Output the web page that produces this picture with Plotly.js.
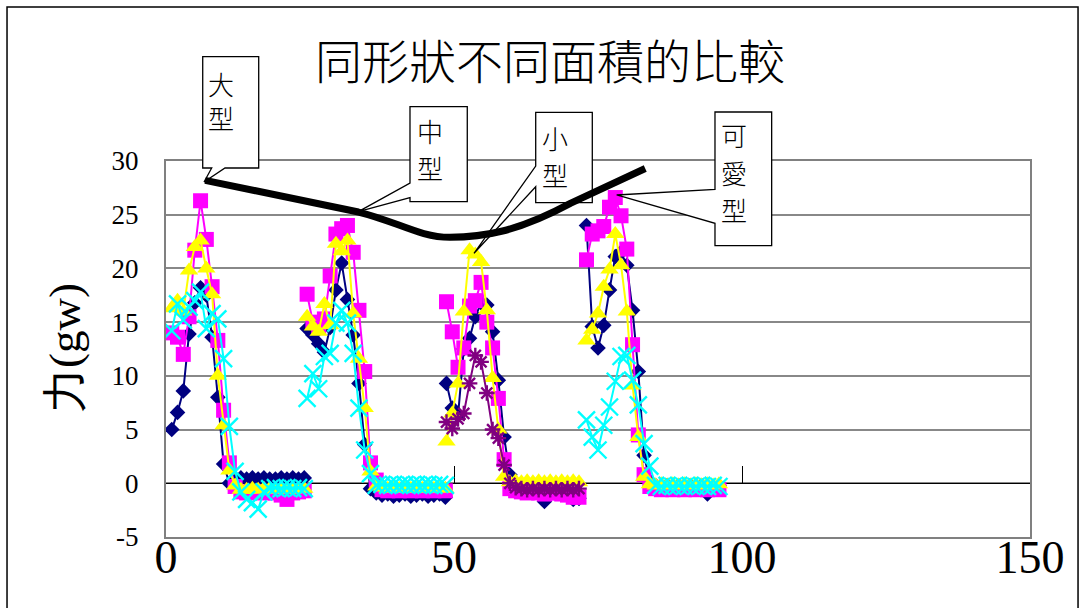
<!DOCTYPE html>
<html>
<head>
<meta charset="utf-8">
<script src="https://cdn.plot.ly/plotly-3.0.1.min.js"></script>
<style>
  html, body { margin: 0; padding: 0; background: #ffffff; }
  #chart { width: 1085px; height: 608px; }
</style>
</head>
<body>
<div id="chart"></div>
<script>
// ---------- data ----------
const chartTitle = '同形狀不同面積的比較';
const yTitle = '力(gw)';
const xTickVals = [0, 50, 100, 150];
const yTickVals = [-5, 0, 5, 10, 15, 20, 25, 30];

// x positions of the four trial groups
const xG1 = [1, 2, 3, 4, 5, 6, 7, 8, 9, 10, 11, 12, 13, 14, 15, 16, 17, 18, 19, 20, 21, 22, 23, 24];
const xG2 = [24.5, 25.5, 26.5, 27.5, 28.5, 29.5, 30.5, 31.5, 32.5, 33.5, 34.5, 35.5, 36.5, 37.5, 38.5, 39.5, 40.5, 41.5, 42.5, 43.5, 44.5, 45.5, 46.5, 47.5, 48.5];
const xG3 = [48.7, 49.7, 50.7, 51.7, 52.7, 53.7, 54.7, 55.7, 56.7, 57.7, 58.7, 59.7, 60.7, 61.7, 62.7, 63.7, 64.7, 65.7, 66.7, 67.7, 68.7, 69.7, 70.7, 71.7];
const xG4 = [73, 74, 75, 76, 77, 78, 79, 80, 81, 82, 83, 84, 85, 86, 87, 88, 89, 90, 91, 92, 93, 94, 95, 96];

// series 1 (navy diamonds)
const navyG1 = [5.0, 6.6, 8.6, 13.9, 16.8, 18.2, 17.5, 13.6, 8.0, 1.8, 0.0, 0.4, 0.5, 0.4, 0.5, 0.4, 0.5, 0.4, 0.4, 0.5, 0.4, 0.5, 0.4, 0.5];
const navyG2 = [14.4, 13.8, 13.0, 12.2, 14.5, 18.0, 20.5, 17.1, 13.8, 9.3, 3.6, -0.5, -0.9, -1.1, -1.0, -1.2, -1.1, -1.0, -1.2, -1.1, -1.0, -1.2, -1.1, -1.0, -1.3];
const navyG3 = [9.3, 7.0, 6.3, 12.5, 13.5, 15.5, 16.8, 16.6, 14.1, 9.6, 4.3, 0.8, -0.3, -0.3, -0.4, -0.5, -0.8, -1.7, -0.8, -0.6, -0.6, -0.7, -1.5, -1.4];
const navyG4 = [24.0, 14.6, 12.6, 14.7, 18.0, 21.1, 21.5, 20.3, 16.1, 10.4, 2.6, 0.2, -0.2, -0.3, -0.2, -0.3, -0.2, -0.3, -0.2, -0.3, -0.2, -1.0, -0.3, -0.2];

// series 2 (magenta squares)
const magG1 = [14.0, 13.6, 12.0, 15.5, 21.7, 26.3, 22.7, 18.3, 13.3, 6.8, 1.9, -0.3, -0.8, -0.9, -0.8, -0.8, -0.9, -0.8, -0.9, -1.1, -1.5, -0.9, -0.8, -0.7];
const magG2 = [17.6, 15.0, 14.5, 15.3, 19.3, 23.2, 23.7, 24.0, 21.5, 16.1, 10.4, 1.9, 0.3, -0.6, -0.7, -0.6, -0.7, -0.6, -0.7, -0.6, -0.7, -0.6, -0.7, -0.6, -0.7];
const magG3 = [16.9, 14.1, 10.8, 12.6, 16.5, 17.0, 18.7, 15.0, 12.6, 7.9, 2.2, -0.5, -0.7, -0.8, -0.9, -0.8, -0.9, -1.0, -0.9, -0.9, -1.0, -1.1, -1.3, -1.3];
const magG4 = [20.8, 23.2, 23.5, 23.9, 25.7, 26.6, 24.9, 21.8, 12.9, 4.5, 0.8, -0.3, -0.5, -0.6, -0.5, -0.6, -0.5, -0.6, -0.5, -0.6, -0.5, -0.6, -0.5, -0.6];

// series 3 (yellow triangles)
const yelG1 = [16.3, 17.0, 16.0, 19.8, 22.0, 22.6, 20.0, 17.6, 10.0, 5.4, 1.2, -0.2, -0.6, -0.6, -0.5, -0.6, -0.5, -0.5, -0.6, -0.5, -0.5, -0.6, -0.5, -0.5];
const yelG2 = [15.5, 14.6, 14.1, 16.7, 14.7, 22.3, 21.6, 22.6, 15.8, 11.6, 7.0, 1.1, -0.3, -0.4, -0.5, -0.4, -0.5, -0.4, -0.5, -0.4, -0.5, -0.4, -0.5, -0.4, -0.5];
const yelG3 = [3.9, 6.5, 9.3, 16.0, 21.7, 21.3, 20.6, 16.1, 9.8, 5.0, 0.6, 0.1, 0.2, 0.1, 0.2, 0.1, 0.2, 0.1, 0.2, 0.1, 0.2, 0.1, 0.2, 0.1];
const yelG4 = [13.3, 14.3, 15.8, 18.3, 19.9, 23.2, 20.3, 16.0, 9.1, 4.3, 0.6, -0.1, -0.2, -0.1, -0.2, -0.1, -0.2, -0.1, -0.2, -0.1, -0.2, -0.1, -0.2, -0.1];

// series 4 (cyan crosses) – groups 1, 2, 4
const cyanG1 = [14.2, 16.7, 15.2, 16.4, 17.0, 17.8, 14.4, 15.8, 15.3, 11.6, 5.3, 1.1, -0.8, -1.5, -1.8, -2.4, -0.8, -0.5, -0.4, -0.5, -0.4, -0.5, -0.4, -0.5];
const cyanG2 = [7.9, 10.2, 8.8, 11.8, 12.1, 14.9, 16.1, 14.9, 12.1, 7.0, 3.1, 0.9, -0.2, -0.1, -0.2, -0.1, -0.2, -0.1, -0.2, -0.1, -0.2, -0.1, -0.2, -0.1, -0.2];
const cyanG4 = [5.9, 4.3, 3.1, 5.4, 7.1, 9.5, 11.8, 11.9, 9.6, 7.3, 3.7, 1.6, -0.2, -0.3, -0.2, -0.3, -0.2, -0.3, -0.2, -0.3, -0.2, -0.3, -0.2, -0.3];

// series 5 (purple asterisks) – group 3 only
const purG3 = [5.7, 5.1, 6.0, 6.5, 9.3, 11.9, 11.3, 8.4, 5.0, 4.2, 1.7, 0.0, -0.4, -0.5, -0.6, -0.5, -0.6, -0.5, -0.6, -0.5, -0.6, -0.5, -0.6, -0.5];

// callout labels (one character per line)
const calloutTexts = [['大', '型'], ['中', '型'], ['小', '型'], ['可', '愛', '型']];

// ---------- build traces ----------
function joinGroups(xs, ys) {
  const X = [], Y = [];
  xs.forEach((xa, i) => {
    if (i > 0) { X.push(null); Y.push(null); }
    xa.forEach((v, j) => { X.push(v); Y.push(ys[i][j]); });
  });
  return { X, Y };
}
function series(xs, ys, color, symbol, size, open) {
  const d = joinGroups(xs, ys);
  return {
    type: 'scatter', mode: 'lines+markers', x: d.X, y: d.Y, connectgaps: false,
    line: { color: color, width: 2 },
    marker: { symbol: symbol, size: size, color: color, line: { color: color, width: open ? 2.4 : 0 } },
    showlegend: false, hoverinfo: 'x+y'
  };
}
const traces = [
  series([xG1, xG2, xG3, xG4], [navyG1, navyG2, navyG3, navyG4], '#000080', 'diamond', 12, false),
  series([xG1, xG2, xG3, xG4], [magG1, magG2, magG3, magG4], '#FF00FF', 'square', 15, false),
  series([xG1, xG2, xG3, xG4], [yelG1, yelG2, yelG3, yelG4], '#FFFF00', 'triangle-up', 16, false),
  series([xG1, xG2, xG4], [cyanG1, cyanG2, cyanG4], '#00FFFF', 'x-thin-open', 17, true),
  series([xG3], [purG3], '#800080', 'asterisk-open', 13, true),
  // empty trace that carries the zero-line axis (xaxis2)
  { type: 'scatter', x: [], y: [], xaxis: 'x2', yaxis: 'y', showlegend: false, hoverinfo: 'skip' }
];

// ---------- layout helpers (pixel -> paper for decorations) ----------
const M = { l: 166, r: 55, t: 161, b: 71 };
const W = 1085, H = 608;
const PW = W - M.l - M.r, PH = H - M.t - M.b;
function px(x) { return ((x - M.l) / PW).toFixed(4); }
function py(y) { return ((H - M.b - y) / PH).toFixed(4); }
function poly(pts) { return 'M ' + pts.map(p => px(p[0]) + ',' + py(p[1])).join(' L ') + ' Z'; }

const serifList = 'Liberation Serif, DejaVu Serif, Times New Roman, serif';
const cjk = 'Noto Sans CJK TC, Noto Sans CJK JP, sans-serif';

const callouts = [
  [[202.7, 56.7], [258.7, 56.7], [258.7, 168], [225, 168], [204, 182], [211.7, 168], [202.7, 168]],
  [[410, 106.7], [467.3, 106.7], [467.3, 201.7], [410, 201.7], [410, 197.7], [358.3, 211.7], [410, 183]],
  [[535.7, 112.3], [592.3, 112.3], [592.3, 202.7], [535.7, 202.7], [535.7, 186.7], [474, 253.3], [535.7, 166]],
  [[715, 112], [771.7, 112], [771.7, 245.7], [715, 245.7], [715, 223.3], [616.7, 195], [715, 189.3]]
];
const calloutCharPos = [
  [[221, 83], [221, 118]],
  [[430, 131], [430, 167]],
  [[555, 138], [555, 174]],
  [[734, 134], [734, 172], [734, 210]]
];

const shapes = [];
shapes.push({ type: 'rect', xref: 'paper', yref: 'paper', x0: px(7), x1: px(1078), y0: py(625), y1: py(7),
  line: { color: '#000000', width: 1.5 }, fillcolor: 'rgba(0,0,0,0)', layer: 'below' });
shapes.push({ type: 'line', xref: 'x', yref: 'y', x0: 0, x1: 150, y0: 25, y1: 25,
  line: { color: '#000000', width: 1 }, layer: 'below' });
callouts.forEach(c => shapes.push({ type: 'path', xref: 'paper', yref: 'paper', path: poly(c),
  line: { color: '#000000', width: 1.3 }, fillcolor: '#ffffff', layer: 'above' }));
shapes.push({ type: 'path', xref: 'x', yref: 'y',
  path: 'M 6.8,28.2 L 33.4,25.25 C 40,24.4 44,22.9 49.3,22.9 C 55,22.9 61,23.4 70.2,26.06 L 83.2,29.3',
  line: { color: '#000000', width: 7 }, layer: 'above' });

const annotations = [];
calloutTexts.forEach((chars, i) => chars.forEach((ch, j) => annotations.push({
  text: ch, xref: 'paper', yref: 'paper',
  x: +px(calloutCharPos[i][j][0]), y: +py(calloutCharPos[i][j][1]),
  xanchor: 'center', yanchor: 'middle', showarrow: false,
  font: { family: cjk, size: 26, color: '#000000', weight: 300 }
})));
// y-axis title, rotated
annotations.push({
  text: yTitle, xref: 'paper', yref: 'paper', x: +px(65), y: +py(348),
  xanchor: 'center', yanchor: 'middle', textangle: -90, showarrow: false,
  font: { family: serifList, size: 45, color: '#000000' }
});

const layout = {
  width: W, height: H, margin: M,
  paper_bgcolor: '#ffffff', plot_bgcolor: '#ffffff', showlegend: false,
  font: { family: serifList, color: '#000000' },
  title: {
    text: chartTitle, xref: 'container', yref: 'container',
    x: 550 / W, xanchor: 'center', y: 1 - 63 / H, yanchor: 'middle',
    font: { family: cjk, size: 47, color: '#000000', weight: 300 }
  },
  xaxis: {
    range: [0, 150], tickvals: xTickVals, ticktext: xTickVals.map(String),
    showgrid: false, zeroline: false,
    showline: true, mirror: true, linecolor: '#808080', linewidth: 2,
    ticks: '', ticklabelstandoff: -21,
    tickfont: { family: serifList, size: 46, color: '#000000' }, fixedrange: true
  },
  xaxis2: {
    overlaying: 'x', anchor: 'free', position: 5 / 35,
    range: [0, 150], tickvals: xTickVals, showticklabels: false,
    showline: true, linecolor: '#000000', linewidth: 1,
    ticks: 'inside', ticklen: 17, tickwidth: 1, tickcolor: '#000000',
    showgrid: false, zeroline: false, layer: 'below traces', fixedrange: true
  },
  yaxis: {
    range: [-5, 30], tickvals: yTickVals, ticktext: yTickVals.map(String),
    showgrid: true, gridcolor: '#888888', gridwidth: 2, zeroline: false,
    showline: true, mirror: true, linecolor: '#808080', linewidth: 2,
    ticks: 'outside', ticklen: 30, tickcolor: 'rgba(0,0,0,0)', tickwidth: 1,
    ticklabelstandoff: -10,
    tickfont: { family: serifList, size: 27, color: '#000000' },
    fixedrange: true
  },
  shapes: shapes, annotations: annotations
};

Plotly.newPlot('chart', traces, layout, { displayModeBar: false, staticPlot: true });
</script>
</body>
</html>
